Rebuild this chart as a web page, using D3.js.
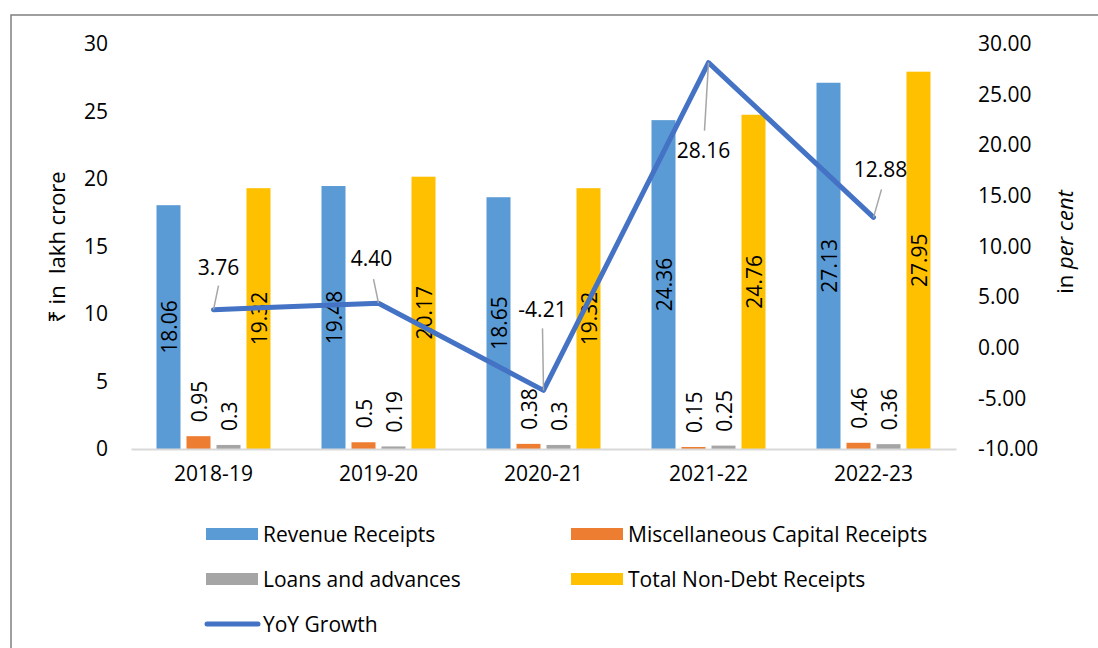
<!DOCTYPE html>
<html lang="en">
<head>
<meta charset="UTF-8">
<title>Non-debt receipts</title>
<script src="https://d3js.org/d3.v7.min.js"></script>
<style>
  body { margin: 0; background: #fff; }
  svg text { font-family: "Open Sans", "Noto Sans", sans-serif; fill: #000; }
</style>
</head>
<body>
<div id="chart"></div>
<script>
// data
const years = ["2018-19", "2019-20", "2020-21", "2021-22", "2022-23"];
const seriesNames = ["Revenue Receipts", "Miscellaneous Capital Receipts", "Loans and advances", "Total Non-Debt Receipts"];
const revenue = [18.06, 19.48, 18.65, 24.36, 27.13];
const miscCapital = [0.95, 0.5, 0.38, 0.15, 0.46];
const loans = [0.3, 0.19, 0.3, 0.25, 0.36];
const totalNonDebt = [19.32, 20.17, 19.32, 24.76, 27.95];
const yoyGrowth = [3.76, 4.40, -4.21, 28.16, 12.88];
const leftTicks = [0, 5, 10, 15, 20, 25, 30];
const rightTicks = [-10, -5, 0, 5, 10, 15, 20, 25, 30];

const colors = ["#5B9BD5", "#ED7D31", "#A5A5A5", "#FFC000"];
const lineColor = "#4472C4";
const fs = "21px";

// manual label placement for growth labels (px from point): label, leader end
const growthLabelOffset = [[5, -35, 5, -24], [-7, -37, -5, -24], [-1, -73, -1, -62], [-5, 95, -4, 68], [7, -40, 8, -28]];

const width = 1098, height = 648;
const plot = { left: 131, right: 956, top: 44, bottom: 449 };

// excel style: plain hyphen for negatives
const fmt2 = v => d3.format(".2f")(v).replace("\u2212", "-");

const svg = d3.select("#chart").append("svg")
    .attr("width", width)
    .attr("height", height);

// outer border
svg.append("rect")
    .attr("x", 11).attr("y", 15)
    .attr("width", 1200).attr("height", 800)
    .attr("fill", "none")
    .attr("stroke", "#808080")
    .attr("stroke-width", 1.5);

const x = d3.scaleBand().domain(years).range([plot.left, plot.right]);
const xInner = d3.scaleBand().domain(d3.range(4)).range([-57, 57]).paddingInner(0.2);
const y = d3.scaleLinear().domain([0, 30]).range([plot.bottom, plot.top]);
const y2 = d3.scaleLinear().domain([-10, 30]).range([plot.bottom, plot.top]);

const seriesVals = [revenue, miscCapital, loans, totalNonDebt];
const bars = [];
seriesVals.forEach((vals, s) => vals.forEach((v, i) => bars.push({ s, i, v })));

// left axis labels
const leftAxis = svg.append("g")
    .attr("transform", `translate(${plot.left},0)`)
    .call(d3.axisLeft(y).tickValues(leftTicks).tickSize(0).tickPadding(23));
leftAxis.select(".domain").remove();
leftAxis.selectAll("text").style("font-size", fs).attr("fill", "#000");

// right axis labels
const rightAxis = svg.append("g")
    .attr("transform", `translate(${plot.right},0)`)
    .call(d3.axisRight(y2).tickValues(rightTicks).tickSize(0).tickPadding(22).tickFormat(fmt2));
rightAxis.select(".domain").remove();
rightAxis.selectAll("text").style("font-size", fs).attr("fill", "#000");

// bars
svg.append("g").selectAll("rect")
    .data(bars)
    .join("rect")
    .attr("x", d => x(years[d.i]) + x.bandwidth() / 2 + xInner(d.s))
    .attr("y", d => y(d.v))
    .attr("width", xInner.bandwidth())
    .attr("height", d => y(0) - y(d.v))
    .attr("fill", d => colors[d.s]);

// category axis
const xAxis = svg.append("g")
    .attr("transform", `translate(0,${plot.bottom})`)
    .call(d3.axisBottom(x).tickSize(0).tickPadding(17));
xAxis.select(".domain").attr("stroke", "#D9D9D9").attr("stroke-width", 2);
xAxis.selectAll("text").style("font-size", fs).attr("fill", "#000");

// bar value labels (rotated)
svg.append("g").selectAll("text")
    .data(bars)
    .join("text")
    .attr("transform", d => {
        const cx = x(years[d.i]) + x.bandwidth() / 2 + xInner(d.s) + xInner.bandwidth() / 2;
        const big = y(0) - y(d.v) > 70;
        const cy = big ? (y(0) + y(d.v)) / 2 : y(d.v) - 14;
        return `translate(${cx},${cy}) rotate(-90)`;
    })
    .attr("text-anchor", d => (y(0) - y(d.v) > 70 ? "middle" : "start"))
    .attr("dominant-baseline", "central")
    .style("font-size", fs)
    .text(d => d.v);

// growth line
const line = d3.line()
    .x((d, i) => x(years[i]) + x.bandwidth() / 2)
    .y(d => y2(d));
svg.append("path")
    .datum(yoyGrowth)
    .attr("d", line)
    .attr("fill", "none")
    .attr("stroke", lineColor)
    .attr("stroke-width", 5)
    .attr("stroke-linejoin", "round")
    .attr("stroke-linecap", "round");

// growth labels with leader lines
const gl = svg.append("g");
yoyGrowth.forEach((v, i) => {
    const px = x(years[i]) + x.bandwidth() / 2;
    const py = y2(v);
    const o = growthLabelOffset[i];
    gl.append("line")
        .attr("x1", px).attr("y1", py)
        .attr("x2", px + o[2]).attr("y2", py + o[3])
        .attr("stroke", "#A6A6A6")
        .attr("stroke-width", 1.5);
    gl.append("text")
        .attr("x", px + o[0])
        .attr("y", py + o[1])
        .attr("text-anchor", "middle")
        .style("font-size", fs)
        .text(fmt2(v));
});

// axis titles
svg.append("text")
    .attr("transform", "translate(65,247) rotate(-90)")
    .attr("text-anchor", "middle")
    .style("font-size", "22px")
    .style("white-space", "pre")
    .attr("xml:space", "preserve")
    .text("₹ in  lakh crore");

const rt = svg.append("text")
    .attr("transform", "translate(1073,242) rotate(-90)")
    .attr("text-anchor", "middle")
    .style("font-size", "22px");
rt.append("tspan").text("in ");
rt.append("tspan").style("font-style", "italic").text("per cent");

// legend
const legendItems = [
    { name: seriesNames[0], color: colors[0], type: "rect", x: 206, y: 534 },
    { name: seriesNames[1], color: colors[1], type: "rect", x: 571, y: 534 },
    { name: seriesNames[2], color: colors[2], type: "rect", x: 206, y: 579 },
    { name: seriesNames[3], color: colors[3], type: "rect", x: 571, y: 579 },
    { name: "YoY Growth", color: lineColor, type: "line", x: 206, y: 624 }
];
const lg = svg.append("g").selectAll("g")
    .data(legendItems)
    .join("g")
    .attr("transform", d => `translate(${d.x},${d.y})`);
lg.filter(d => d.type === "rect").append("rect")
    .attr("x", 0).attr("y", -6)
    .attr("width", 52).attr("height", 12)
    .attr("fill", d => d.color);
lg.filter(d => d.type === "line").append("line")
    .attr("x1", 1).attr("x2", 52).attr("y1", 0).attr("y2", 0)
    .attr("stroke", d => d.color)
    .attr("stroke-width", 5)
    .attr("stroke-linecap", "round");
lg.append("text")
    .attr("x", 57)
    .attr("y", 0)
    .attr("dominant-baseline", "central")
    .style("font-size", fs)
    .text(d => d.name);
</script>
</body>
</html>
